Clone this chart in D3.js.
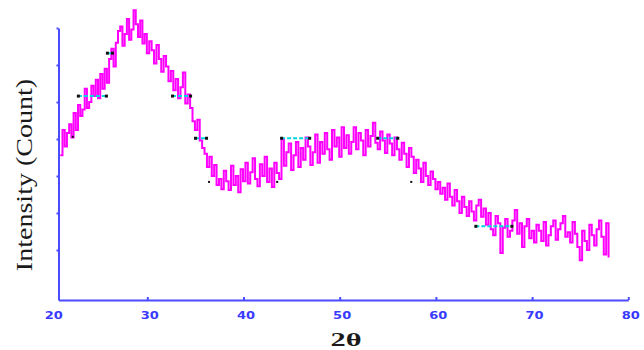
<!DOCTYPE html>
<html>
<head>
<meta charset="utf-8">
<script src="https://cdn.jsdelivr.net/npm/d3@7"></script>
<style>
  html, body { margin: 0; padding: 0; background: #fff; }
  svg { display: block; }
</style>
</head>
<body>
<svg id="chart" width="644" height="350"></svg>
<script>
// XRD scan: 2θ sampled from 20.2° in 0.25° steps
const twoThetaStart = 20.2;
const twoThetaStep = 0.25;
const intensity = [
  228,262,240,258,270,252,285,262,296,281,290,318,292,300,322,308,330,305,338,318,
  345,326,358,372,348,380,396,402,376,392,412,384,398,424,405,388,410,379,392,366,
  382,370,352,377,358,341,362,348,328,342,316,331,305,320,340,298,310,292,274,262,
  276,248,238,230,212,226,200,215,188,196,182,207,193,181,214,188,200,178,209,193,
  218,190,205,224,196,186,216,200,226,192,210,185,218,204,196,250,214,232,244,208,
  228,246,212,238,222,252,240,215,232,256,218,246,230,258,236,222,262,240,252,226,
  266,238,255,230,246,266,236,258,248,228,262,240,254,272,245,236,260,248,231,256,
  244,228,252,236,222,245,230,212,238,226,204,222,210,192,218,200,188,206,196,182,
  192,176,184,168,190,172,160,181,166,150,172,158,146,166,152,140,160,168,145,156,
  134,150,128,120,146,136,96,130,142,118,126,140,154,122,136,104,132,142,116,126,
  110,134,126,112,138,106,120,132,140,114,128,136,146,118,124,110,138,122,104,86,
  126,112,100,134,120,106,128,140,118,94,136,90
];

// Peak-level marker segments [from 2θ, to 2θ, level]
const markerFrom  = [22.18, 25.45, 32.57, 34.96, 43.91, 53.90, 64.10];
const markerTo    = [25.45, 26.13, 34.55, 36.21, 46.93, 56.09, 67.95];
const markerLevel = [308,   366,   308,   251,   251,   251,   132];
// Single marker points [2θ, level]
const dotTheta = [21.61, 36.42, 43.50, 57.44];
const dotLevel = [253,   192,   192,   192];

const xTicks = [20, 30, 40, 50, 60, 70, 80];
const yTicks = [100, 150, 200, 250, 300, 350, 400];
const xTitle = "2θ";
const yTitle = "Intensity (Count)";

const points = intensity.map((v, i) => ({ t: twoThetaStart + i * twoThetaStep, v }));

const svg = d3.select("#chart");
const axisColor = "#4b4bff";

const x = d3.scaleLinear().domain([20, 30, 80]).range([58.5, 147.3, 628.3]);
const y = d3.scaleLinear().domain([32.43, 400]).range([300, 28]);

// pattern trace
const line = d3.line()
  .x(d => x(d.t))
  .y(d => y(d.v))
  .curve(d3.curveStepAfter);

svg.append("path")
  .datum(points)
  .attr("fill", "none")
  .attr("stroke", "#ff00ff")
  .attr("stroke-width", 2)
  .attr("d", line);

// marker segments
const markers = markerFrom.map((f, i) => ({ f, t: markerTo[i], v: markerLevel[i] }));
const mg = svg.append("g");
mg.selectAll("line.seg").data(markers).join("line")
  .attr("class", "seg")
  .attr("x1", d => x(d.f)).attr("x2", d => x(d.t))
  .attr("y1", d => y(d.v)).attr("y2", d => y(d.v))
  .attr("stroke", "#00d8e0").attr("stroke-width", 2)
  .attr("stroke-dasharray", "4,2");
mg.selectAll("rect.endA").data(markers).join("rect")
  .attr("class", "endA")
  .attr("x", d => x(d.f) - 1).attr("y", d => y(d.v) - 1.5)
  .attr("width", 3).attr("height", 3).attr("fill", "#111");
mg.selectAll("rect.endB").data(markers).join("rect")
  .attr("class", "endB")
  .attr("x", d => x(d.t) - 2).attr("y", d => y(d.v) - 1.5)
  .attr("width", 3).attr("height", 3).attr("fill", "#111");
const dots = dotTheta.map((t, i) => ({ t, v: dotLevel[i] }));
mg.selectAll("rect.dot").data(dots).join("rect")
  .attr("class", "dot")
  .attr("x", d => x(d.t) - 1).attr("y", d => y(d.v) - 1)
  .attr("width", 2).attr("height", 2).attr("fill", "#111");

// x axis
const gx = svg.append("g")
  .attr("transform", "translate(0,300)")
  .call(d3.axisBottom(x).tickValues(xTicks).tickSize(-3).tickSizeOuter(0).tickFormat(d3.format("d")));
gx.select(".domain").attr("stroke", axisColor).attr("stroke-width", 2);
gx.selectAll(".tick line").attr("stroke", axisColor).attr("stroke-width", 2);
gx.selectAll(".tick text")
  .attr("y", 19).attr("dy", 0)
  .attr("x", d => d === 20 ? -4 : 1.5)
  .attr("fill", "#3a3aff")
  .attr("font-family", "DejaVu Sans")
  .attr("font-weight", "bold")
  .attr("font-size", 10)
  .attr("transform", "scale(1.3,1)");

// y axis
const gy = svg.append("g")
  .attr("transform", "translate(58.5,0)")
  .call(d3.axisLeft(y).tickValues(yTicks).tickSize(2).tickSizeOuter(0).tickFormat(""));
gy.select(".domain").attr("stroke", axisColor).attr("stroke-width", 2);
gy.selectAll(".tick line").attr("stroke", axisColor).attr("stroke-width", 2);

// titles
svg.append("text")
  .attr("transform", "translate(346,346) scale(1.6,1)")
  .attr("text-anchor", "middle")
  .attr("font-family", "Liberation Serif")
  .attr("font-weight", "bold")
  .attr("font-size", 19)
  .attr("fill", "#1a1a1a")
  .text(xTitle);

svg.append("text")
  .attr("transform", "translate(32,175) rotate(-90) scale(1.22,1)")
  .attr("text-anchor", "middle")
  .attr("font-family", "Liberation Serif")
  .attr("font-size", 23)
  .attr("fill", "#1a1a1a")
  .text(yTitle);
</script>
</body>
</html>
